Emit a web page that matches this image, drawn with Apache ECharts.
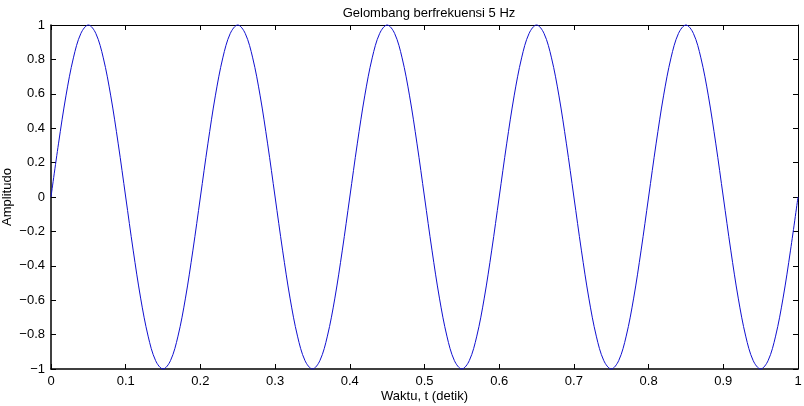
<!DOCTYPE html>
<html><head><meta charset="utf-8">
<script src="https://cdn.jsdelivr.net/npm/echarts@6/dist/echarts.min.js"></script>
<style>html,body{margin:0;padding:0;background:#fff}#c{width:804px;height:406px}</style>
</head><body><div id="c"></div>
<script>
const titleText = 'Gelombang berfrekuensi 5 Hz';
const xName = 'Waktu, t (detik)';
const yName = 'Amplitudo';
const xTicks = [0,0.1,0.2,0.3,0.4,0.5,0.6,0.7,0.8,0.9,1];
const yTicks = [-1,-0.8,-0.6,-0.4,-0.2,0,0.2,0.4,0.6,0.8,1];
// time samples (s), every 0.01 s
const times = [0,0.01,0.02,0.03,0.04,0.05,0.06,0.07,0.08,0.09,0.10,0.11,0.12,0.13,0.14,0.15,0.16,0.17,0.18,0.19,
0.20,0.21,0.22,0.23,0.24,0.25,0.26,0.27,0.28,0.29,0.30,0.31,0.32,0.33,0.34,0.35,0.36,0.37,0.38,0.39,
0.40,0.41,0.42,0.43,0.44,0.45,0.46,0.47,0.48,0.49,0.50,0.51,0.52,0.53,0.54,0.55,0.56,0.57,0.58,0.59,
0.60,0.61,0.62,0.63,0.64,0.65,0.66,0.67,0.68,0.69,0.70,0.71,0.72,0.73,0.74,0.75,0.76,0.77,0.78,0.79,
0.80,0.81,0.82,0.83,0.84,0.85,0.86,0.87,0.88,0.89,0.90,0.91,0.92,0.93,0.94,0.95,0.96,0.97,0.98,0.99,1.00];
// amplitude
const amplitude = [0,0.309,0.588,0.809,0.951,1,0.951,0.809,0.588,0.309,0,-0.309,-0.588,-0.809,-0.951,-1,-0.951,-0.809,-0.588,-0.309,
0,0.309,0.588,0.809,0.951,1,0.951,0.809,0.588,0.309,0,-0.309,-0.588,-0.809,-0.951,-1,-0.951,-0.809,-0.588,-0.309,
0,0.309,0.588,0.809,0.951,1,0.951,0.809,0.588,0.309,0,-0.309,-0.588,-0.809,-0.951,-1,-0.951,-0.809,-0.588,-0.309,
0,0.309,0.588,0.809,0.951,1,0.951,0.809,0.588,0.309,0,-0.309,-0.588,-0.809,-0.951,-1,-0.951,-0.809,-0.588,-0.309,
0,0.309,0.588,0.809,0.951,1,0.951,0.809,0.588,0.309,0,-0.309,-0.588,-0.809,-0.951,-1,-0.951,-0.809,-0.588,-0.309,0];

const font = 'Liberation Sans, Arial, sans-serif';
const fs = 13;
const fmt = v => { const s = String(Math.round(v*10)/10); return s.replace('-', '\u2212'); };
const tick = {inside:true, length:5, lineStyle:{color:'#000', width:1}};
const chart = echarts.init(document.getElementById('c'), null, {renderer:'canvas'});
chart.setOption({
  animation:false,
  backgroundColor:'#fff',
  title:{text:titleText, left:424, textAlign:'center', top:2,
    textStyle:{fontFamily:font, fontSize:fs, fontWeight:'normal', color:'#000'}},
  grid:{left:51, right:6, top:25, bottom:37, containLabel:false, outerBoundsMode:'none'},
  xAxis:[
    {type:'value', min:0, max:1, interval:0.1, position:'bottom',
     name:xName, nameLocation:'middle', nameGap:21, nameMoveOverlap:false,
     nameTextStyle:{fontFamily:font, fontSize:fs, color:'#000'},
     axisLine:{onZero:false, lineStyle:{color:'#000', width:1.5}}, axisTick:tick,
     axisLabel:{fontFamily:font, fontSize:fs, color:'#000', margin:6, formatter:fmt},
     splitLine:{show:false}},
    {type:'value', min:0, max:1, interval:0.1, position:'top',
     axisLine:{onZero:false, lineStyle:{color:'#000', width:1}}, axisTick:tick, axisLabel:{show:false}, splitLine:{show:false}}
  ],
  yAxis:[
    {type:'value', min:-1, max:1, interval:0.2, position:'left',
     name:yName, nameLocation:'middle', nameGap:37, nameRotate:90, nameMoveOverlap:false,
     nameTextStyle:{fontFamily:font, fontSize:fs, color:'#000'},
     axisLine:{onZero:false, lineStyle:{color:'#000', width:1.5}}, axisTick:tick,
     axisLabel:{fontFamily:font, fontSize:fs, color:'#000', margin:6, formatter:fmt},
     splitLine:{show:false}},
    {type:'value', min:-1, max:1, interval:0.2, position:'right',
     axisLine:{onZero:false, lineStyle:{color:'#000', width:1}}, axisTick:tick, axisLabel:{show:false}, splitLine:{show:false}}
  ],
  series:[{type:'line', data:times.map((t,i)=>[t, amplitude[i]]), smooth:0.35,
    showSymbol:false, lineStyle:{color:'#1010d0', width:1}, clip:false}]
});
</script></body></html>
